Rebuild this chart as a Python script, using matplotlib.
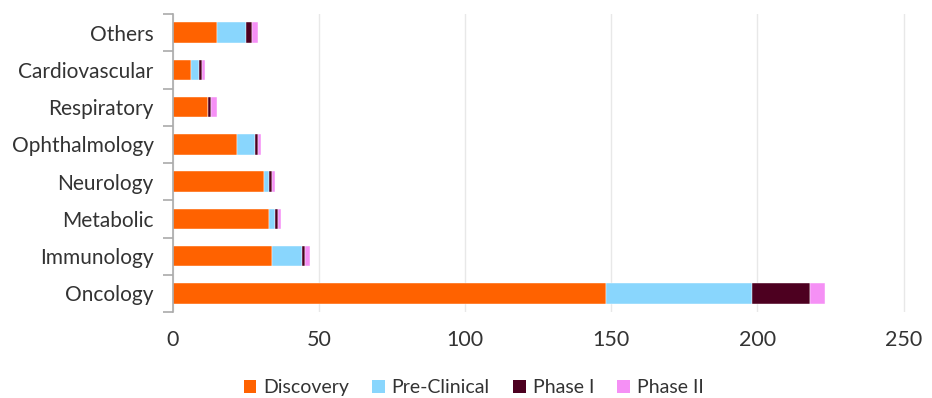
import numpy as np
import matplotlib.pyplot as plt
from matplotlib.patches import Patch

plt.rcParams['font.family'] = ['Lato', 'DejaVu Sans']

areas = ['Oncology', 'Immunology', 'Metabolic', 'Neurology',
         'Ophthalmology', 'Respiratory', 'Cardiovascular', 'Others']
discovery = [148, 34, 33, 31, 22, 12, 6, 15]
preclinical = [50, 10, 2, 2, 6, 0, 3, 10]
phase1 = [20, 1, 1, 1, 1, 1, 1, 2]
phase2 = [5, 2, 1, 1, 1, 2, 1, 2]

stages = ['Discovery', 'Pre-Clinical', 'Phase I', 'Phase II']
colors = ['#FF6200', '#89D6FD', '#4D0020', '#F590F5']

fig = plt.figure(figsize=(9.32, 3.98), dpi=100)
ax = fig.add_axes([173 / 932, 86 / 398, 735 / 932, 298 / 398])

y = np.arange(len(areas))
left = np.zeros(len(areas))
for vals, c in zip([discovery, preclinical, phase1, phase2], colors):
    ax.barh(y, vals, left=left, height=0.55, color=c, edgecolor='white', linewidth=0.3)
    left += np.array(vals)

ax.set_xlim(0, 251.5)
ax.set_ylim(-0.5, len(areas) - 0.5)
ax.set_xticks([0, 50, 100, 150, 200, 250])
ax.set_yticks(y)
ax.set_yticklabels(areas)
ax.set_yticks(np.arange(-0.5, len(areas)), minor=True)
ax.tick_params(axis='y', which='major', length=0, pad=14, labelsize=15, labelcolor='#333333')
ax.tick_params(axis='y', which='minor', length=7, color='#AAAAAA', width=1.2)
ax.tick_params(axis='x', length=0, pad=13, labelsize=15.5, labelcolor='#333333')

ax.grid(axis='x', color='#E8E8E8', linewidth=1)
ax.set_axisbelow(True)
for s in ['top', 'right', 'bottom']:
    ax.spines[s].set_visible(False)
ax.spines['left'].set_color('#AAAAAA')
ax.spines['left'].set_linewidth(1.2)

handles = [Patch(facecolor=c, label=s) for s, c in zip(stages, colors)]
fig.legend(handles=handles, loc='lower center', bbox_to_anchor=(0.508, -0.04), ncol=4,
           frameon=False, fontsize=14, handlelength=0.65, handleheight=0.65,
           handletextpad=0.35, columnspacing=1.2, labelcolor='#333333')

fig.savefig('out.png', dpi=100)
